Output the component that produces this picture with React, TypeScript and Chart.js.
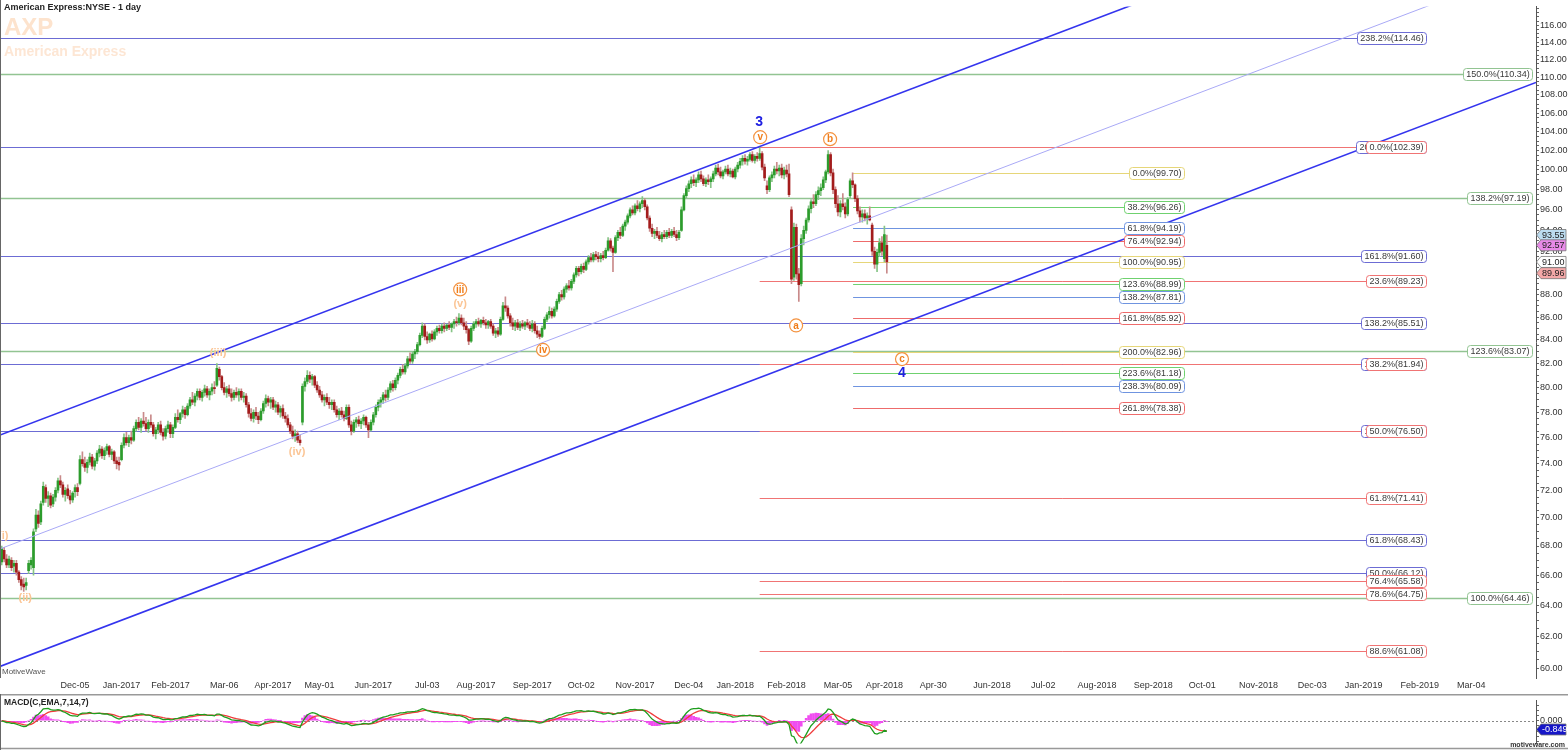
import React, { useEffect, useRef } from 'react';
import { Chart, registerables } from 'chart.js';

Chart.register(...registerables);

const FONT = '"Liberation Sans", Arial, Helvetica, sans-serif';

// trading-day index of the first candle (index 0 = 2016-12-05)
const FIRST_INDEX = -30;

// ---- daily OHLC, 2016-10-21 .. 2018-04-03 ----
const OPEN = [
  // Oct 21 - Dec 2 2016
  66.9,67.7,67.1,66.7,67.0,66.6,66.8,66.2,65.7,65.4,65.3,66.3,66.7,66.5,69.2,70.2,69.7,71.1,72.2,71.4,71.6,71.0,71.5,72.0,72.7,72.4,71.7,72.1,71.6,71.3,
  // Dec 2016
  71.9,72.2,72.5,74.3,74.0,73.7,74.1,74.5,73.8,74.2,74.8,75.1,74.6,75.0,75.3,74.7,74.9,74.2,74.1,
  // Jan 2017
  74.3,75.4,76.0,75.6,76.0,75.8,76.7,77.2,76.8,77.3,77.1,76.7,77.2,77.0,76.3,76.6,77.0,76.4,76.1,76.7,77.0,
  // Feb 2017
  76.3,76.8,77.6,77.4,77.9,78.2,77.8,78.5,79.0,78.8,79.3,79.7,79.2,79.6,79.9,79.4,79.7,80.0,
  // Mar 2017
  80.2,81.5,80.9,80.0,79.6,79.9,79.5,79.2,79.6,79.4,79.7,79.2,79.3,78.6,77.9,77.5,78.0,77.7,77.4,78.1,78.7,79.1,78.8,
  // Apr 2017
  79.0,78.4,78.6,78.0,78.3,77.7,77.5,77.0,76.5,76.1,76.3,75.8,77.2,80.1,80.5,81.0,80.7,80.9,80.2,
  // May 2017
  79.8,79.4,79.0,79.2,78.8,78.6,78.8,78.2,77.8,78.1,77.8,77.5,78.4,77.0,76.5,77.2,77.4,77.1,77.3,77.6,77.0,76.6,
  // Jun 2017
  77.2,77.8,78.4,78.8,79.0,79.4,79.2,79.8,80.3,80.0,80.6,81.0,81.5,81.3,81.8,82.4,82.2,82.8,83.0,83.6,84.4,85.2,
  // Jul 2017
  84.3,84.0,84.5,84.1,84.7,85.0,84.8,85.2,85.0,85.3,85.1,85.4,85.6,85.5,85.9,85.5,85.2,84.9,83.9,85.0,
  // Aug 2017
  85.4,85.6,85.4,85.7,85.5,85.3,85.6,85.2,84.6,84.8,84.5,85.8,87.0,86.8,86.1,85.5,85.2,85.5,85.1,85.4,85.2,85.5,85.3,
  // Sep 2017
  85.0,85.4,84.8,84.5,84.3,85.0,85.8,86.2,86.5,86.1,86.7,87.4,88.0,87.8,88.5,88.8,88.6,89.2,89.8,90.4,
  // Oct 2017
  90.1,90.6,90.3,91.0,91.4,91.2,91.7,91.5,91.3,91.6,91.4,92.1,93.0,92.3,91.9,93.3,93.8,93.5,94.4,94.8,95.4,96.0,
  // Nov 2017
  95.7,96.4,96.1,96.6,96.9,96.3,95.2,94.2,93.7,93.9,93.5,93.2,93.6,93.4,93.8,93.5,93.9,93.6,93.3,94.0,96.0,
  // Dec 2017
  97.4,98.1,98.6,99.0,98.7,99.0,99.5,99.1,98.6,99.0,98.8,99.1,99.6,100.2,99.8,99.4,99.8,100.1,99.6,99.9,
  // Jan 2018
  99.3,100.1,100.5,100.9,101.2,100.9,101.1,101.6,101.0,101.4,101.2,101.7,100.3,98.4,98.0,99.2,99.5,100.1,99.9,100.2,99.5,
  // Feb 2018
  100.0,99.6,96.0,89.6,94.3,89.9,89.0,93.2,94.0,95.0,96.1,96.8,96.6,97.5,97.9,98.2,99.0,99.8,101.6,
  // Mar 2018
  99.7,98.0,96.6,95.8,96.6,96.3,95.6,97.4,98.9,98.5,97.1,95.9,95.3,95.6,95.2,95.4,94.5,92.0,90.8,91.9,92.8,
  // Apr 2018
  91.3,92.57,
];
const HIGH = [
  68.0,67.9,67.4,67.3,67.2,67.0,67.0,66.3,65.9,65.8,65.8,67.0,67.2,69.2,70.6,70.5,71.2,72.6,72.4,71.9,71.8,71.7,72.2,72.9,73.1,72.6,72.2,72.4,72.0,71.9,
  72.4,72.5,74.6,74.9,74.5,74.3,74.8,74.7,74.4,75.0,75.4,75.3,75.2,75.5,75.4,75.1,75.0,74.5,74.5,
  75.6,76.3,76.4,76.2,76.5,76.9,77.4,77.6,77.5,78.0,77.6,77.4,77.8,77.2,76.8,77.2,77.3,76.7,76.9,77.3,77.2,
  77.0,77.9,78.2,78.0,78.5,78.4,78.7,79.2,79.6,79.5,79.9,79.9,79.8,80.2,80.1,79.9,80.3,80.5,
  82.0,81.7,81.0,80.4,80.1,80.2,79.9,79.8,80.0,79.9,79.9,79.6,79.5,78.8,78.3,78.2,78.4,78.0,78.3,78.9,79.4,79.3,79.2,
  79.2,78.9,78.8,78.5,78.6,78.0,77.8,77.2,76.9,76.6,76.5,76.2,80.3,80.8,81.4,81.3,81.1,81.0,80.5,
  80.1,79.7,79.4,79.5,79.2,79.0,79.0,78.5,78.3,78.4,78.1,78.6,78.6,77.3,77.4,77.6,77.7,77.5,77.8,77.7,77.2,77.4,
  78.0,78.6,79.0,79.2,79.6,79.8,80.0,80.5,80.6,80.8,81.2,81.7,81.9,82.0,82.6,82.9,83.0,83.2,83.8,84.6,85.5,85.4,
  84.7,84.6,84.8,84.9,85.2,85.3,85.4,85.5,85.4,85.6,85.5,85.8,86.0,86.3,86.2,85.9,85.6,85.0,85.2,85.6,
  85.8,85.9,85.8,86.0,85.8,85.7,85.8,85.4,85.0,85.1,86.0,87.3,87.8,87.0,86.3,85.9,85.7,85.8,85.6,85.7,85.6,85.8,85.6,
  85.7,85.6,85.2,84.8,85.2,86.0,86.4,86.9,86.8,86.9,87.6,88.2,88.4,88.7,89.0,89.3,89.4,90.0,90.6,90.6,
  90.8,90.9,91.2,91.6,91.8,91.9,92.0,91.9,91.8,92.0,92.3,93.3,93.2,92.5,93.5,94.0,94.3,94.6,95.0,95.6,96.2,96.4,
  96.6,96.9,96.8,97.3,97.1,96.5,95.4,94.6,94.1,94.3,93.9,93.8,94.0,94.0,94.2,94.1,94.3,94.0,94.0,96.3,97.6,
  98.4,98.9,99.3,99.5,99.2,99.8,99.9,99.4,99.2,99.5,99.3,99.9,100.5,100.6,100.3,100.0,100.4,100.5,100.2,100.1,
  100.3,100.8,101.2,101.5,101.6,101.4,101.8,101.9,101.6,101.8,102.4,101.9,100.6,98.9,99.4,99.8,100.4,100.8,100.5,100.6,100.3,
  100.5,100.6,96.3,94.7,94.6,90.4,93.6,94.4,95.2,96.4,97.0,97.5,97.8,98.3,98.6,99.3,100.0,102.0,101.8,
  100.1,98.3,97.4,96.9,97.6,96.7,97.2,99.1,99.7,98.6,97.4,96.3,96.0,96.0,95.7,96.3,94.7,92.4,92.2,93.2,93.4,
  94.4,93.55,
];
const LOW = [
  66.7,66.9,66.5,66.5,66.3,66.2,66.0,65.5,65.0,64.9,65.0,66.1,66.4,66.0,69.0,69.3,69.5,70.9,71.1,70.8,70.7,70.8,71.2,71.8,72.2,71.5,71.2,71.4,71.0,71.1,
  71.5,71.6,72.4,73.8,73.4,73.3,73.9,73.6,73.5,74.0,74.5,74.4,74.3,74.7,74.5,74.3,74.0,73.6,73.5,
  74.2,75.2,75.4,75.3,75.5,75.7,76.5,76.6,76.4,76.9,76.5,76.4,76.8,76.1,75.9,76.3,76.2,75.8,75.9,76.4,76.0,
  76.0,76.7,77.2,77.1,77.6,77.5,77.7,78.3,78.6,78.5,79.0,79.0,78.9,79.3,79.2,79.0,79.4,79.5,
  80.1,80.6,79.8,79.4,79.2,79.3,78.9,79.0,79.2,78.9,79.0,78.8,78.4,77.6,77.3,77.2,77.4,77.1,77.3,77.9,78.4,78.5,78.3,
  78.2,78.0,77.8,77.6,77.5,77.2,76.8,76.3,75.9,75.7,75.6,75.4,77.0,79.7,80.3,80.4,80.2,80.0,79.6,
  79.2,78.8,78.5,78.6,78.3,78.2,78.0,77.6,77.4,77.6,77.3,77.4,76.8,76.2,76.4,76.8,76.9,76.7,77.0,76.8,76.0,76.5,
  77.0,77.6,78.1,78.4,78.7,78.9,79.0,79.6,79.7,79.8,80.3,80.8,81.1,81.1,81.6,82.0,82.0,82.4,82.8,83.5,84.2,84.0,
  83.7,83.8,83.9,84.0,84.4,84.6,84.6,84.7,84.8,84.9,84.7,85.0,85.2,85.3,85.3,84.9,84.6,83.6,83.8,84.8,
  85.1,85.2,85.1,85.3,85.0,85.0,85.0,84.4,84.2,84.3,84.4,85.7,86.5,85.9,85.2,84.9,84.8,84.9,84.8,85.0,84.9,85.1,84.8,
  84.7,84.6,84.2,84.1,84.2,84.9,85.6,85.9,85.9,86.0,86.5,87.2,87.5,87.6,88.2,88.4,88.4,89.0,89.6,89.7,
  89.9,90.0,90.2,90.8,91.0,91.0,91.2,91.0,91.0,91.2,91.3,92.0,92.0,90.1,91.8,93.0,93.2,93.4,94.0,94.6,95.2,95.5,
  95.5,95.9,95.8,96.2,96.0,95.0,93.9,93.4,93.2,93.3,93.0,92.9,93.2,93.2,93.3,93.3,93.4,93.0,93.1,93.9,95.9,
  97.2,97.8,98.2,98.4,98.3,98.7,98.8,98.4,98.3,98.5,98.2,98.8,99.4,99.5,99.2,99.1,99.6,99.4,99.3,99.2,
  99.1,99.8,100.2,100.5,100.6,100.5,100.9,100.8,100.7,100.9,101.0,100.0,98.9,97.6,97.8,98.8,99.2,99.6,99.4,99.2,99.1,
  99.3,97.3,89.0,89.3,89.4,87.4,88.8,92.6,93.7,94.8,95.7,96.2,96.4,97.0,97.4,98.0,98.7,99.6,99.4,
  97.6,96.2,95.4,95.3,96.0,95.2,95.4,97.2,98.2,96.8,95.6,94.8,94.8,94.9,94.6,94.9,91.6,90.4,90.1,91.5,91.6,
  91.0,89.96,
];
const CLOSE = [
  67.8,67.1,66.7,67.1,66.5,66.8,66.2,65.7,65.3,65.2,65.5,66.8,67.0,69.0,70.2,69.6,71.0,72.3,71.4,71.6,70.9,71.5,72.0,72.7,72.4,71.7,72.0,71.6,71.3,71.8,
  72.2,71.9,74.3,74.0,73.7,74.1,74.5,73.8,74.2,74.8,75.1,74.6,75.0,75.3,74.7,74.9,74.2,74.0,73.9,
  75.4,76.0,75.6,76.0,75.8,76.7,77.2,76.8,77.3,77.1,76.7,77.2,77.0,76.3,76.6,77.0,76.4,76.1,76.7,77.0,76.3,
  76.8,77.6,77.4,77.9,78.2,77.8,78.5,79.0,78.8,79.3,79.7,79.2,79.6,79.9,79.4,79.7,80.0,79.9,
  81.6,80.9,80.0,79.6,79.9,79.5,79.2,79.6,79.4,79.7,79.2,79.3,78.6,77.9,77.5,78.0,77.7,77.4,78.1,78.7,79.1,78.8,79.0,
  78.4,78.6,78.0,78.3,77.7,77.5,77.0,76.5,76.1,76.3,75.8,75.6,80.1,80.5,81.0,80.7,80.9,80.2,79.8,
  79.4,79.0,79.2,78.8,78.6,78.8,78.2,77.8,78.1,77.8,77.5,78.4,77.0,76.5,77.2,77.4,77.1,77.3,77.6,77.0,76.6,77.2,
  77.8,78.4,78.8,79.0,79.4,79.2,79.8,80.3,80.0,80.6,81.0,81.5,81.3,81.8,82.4,82.2,82.8,83.0,83.6,84.4,85.2,84.3,
  84.0,84.5,84.1,84.7,85.0,84.8,85.2,85.0,85.3,85.1,85.4,85.6,85.5,85.9,85.5,85.2,84.9,83.9,85.0,85.4,
  85.6,85.4,85.7,85.5,85.3,85.6,85.2,84.6,84.8,84.5,85.8,87.0,86.8,86.1,85.5,85.2,85.5,85.1,85.4,85.2,85.5,85.3,85.0,
  85.4,84.8,84.5,84.3,85.0,85.8,86.2,86.5,86.1,86.7,87.4,88.0,87.8,88.5,88.8,88.6,89.2,89.8,90.4,90.1,
  90.6,90.3,91.0,91.4,91.2,91.7,91.5,91.3,91.6,91.4,92.1,93.0,92.3,91.9,93.3,93.8,93.5,94.4,94.8,95.4,96.0,95.7,
  96.4,96.1,96.6,96.9,96.3,95.2,94.2,93.7,93.9,93.5,93.2,93.6,93.4,93.8,93.5,93.9,93.6,93.3,93.8,96.0,97.4,
  98.1,98.6,99.0,98.7,99.0,99.5,99.1,98.6,99.0,98.8,99.1,99.6,100.2,99.8,99.4,99.8,100.1,99.6,99.9,99.3,
  100.1,100.5,100.9,101.2,100.9,101.1,101.6,101.0,101.4,101.2,101.7,100.3,99.2,98.0,99.2,99.5,100.1,99.9,100.2,99.5,100.0,
  99.6,97.5,89.4,94.3,89.9,88.9,93.2,94.0,95.0,96.1,96.8,96.6,97.5,97.9,98.2,99.0,99.8,101.6,99.7,
  98.0,96.6,95.8,96.6,96.3,95.6,97.0,98.9,98.5,97.1,95.9,95.3,95.6,95.2,95.4,95.0,92.0,90.8,91.9,92.8,92.0,
  93.6,91.00,
];

// ---- axes ----
const X_MIN = -30.7;
const X_MAX = 597.5;
const PRICE_MIN = 59.39;
const PRICE_MAX = 118.27;
const PRICE_LABEL_FIRST = 60;
const PRICE_LABEL_LAST = 116;
const PRICE_LABEL_STEP = 2;
const PRICE_MINOR_STEP = 0.5;
const DATE_TICK_INDEX = [0, 19, 39, 61, 81, 100, 122, 144, 164, 187, 207, 229, 251, 270, 291, 312, 331, 351, 375, 396, 418, 441, 461, 484, 506, 527, 550, 571];
const DATE_TICK_LABELS = ['Dec-05', 'Jan-2017', 'Feb-2017', 'Mar-06', 'Apr-2017', 'May-01', 'Jun-2017', 'Jul-03', 'Aug-2017', 'Sep-2017', 'Oct-02', 'Nov-2017', 'Dec-04', 'Jan-2018', 'Feb-2018', 'Mar-05', 'Apr-2018', 'Apr-30', 'Jun-2018', 'Jul-02', 'Aug-2018', 'Sep-2018', 'Oct-01', 'Nov-2018', 'Dec-03', 'Jan-2019', 'Feb-2019', 'Mar-04'];
const MACD_MIN = -2.22;
const MACD_MAX = 1.98;
const MACD_TICKS = [-2, -1.5, -1, -0.5, 0, 0.5, 1, 1.5];
const MACD_LAST_TAG = -0.849;

// ---- channel lines (trading-day index, price) ----
const CHANNEL_UPPER = [{ x: -30.7, y: 76.2 }, { x: 460, y: 121.6 }];
const CHANNEL_MIDDLE = [{ x: -30.7, y: 67.8 }, { x: 582.8, y: 121.7 }];
const CHANNEL_LOWER = [{ x: -30.7, y: 60.1 }, { x: 597.5, y: 109.4 }];

// ---- Fibonacci levels ----
const BLUE_LEVELS: [number, string][] = [
  [114.46, '238.2%(114.46)'], [102.39, '200.0%(102.39)'], [91.60, '161.8%(91.60)'], [85.51, '138.2%(85.51)'],
  [81.94, '123.6%(81.94)'], [76.50, '100.0%(76.50)'], [68.43, '61.8%(68.43)'], [66.12, '50.0%(66.12)'],
];
const GREEN_LEVELS: [number, string][] = [
  [110.34, '150.0%(110.34)'], [97.19, '138.2%(97.19)'], [83.07, '123.6%(83.07)'], [64.46, '100.0%(64.46)'],
];
const RED_LEVELS: [number, string][] = [
  [102.39, '0.0%(102.39)'], [89.23, '23.6%(89.23)'], [81.94, '38.2%(81.94)'], [76.50, '50.0%(76.50)'],
  [71.41, '61.8%(71.41)'], [65.58, '76.4%(65.58)'], [64.75, '78.6%(64.75)'], [61.08, '88.6%(61.08)'],
];
const SHORT_LEVELS: [number, string, string][] = [
  [99.70, '0.0%(99.70)', 'y'], [96.26, '38.2%(96.26)', 'g'], [94.19, '61.8%(94.19)', 'b'], [92.94, '76.4%(92.94)', 'r'],
  [90.95, '100.0%(90.95)', 'y'], [88.99, '123.6%(88.99)', 'g'], [87.81, '138.2%(87.81)', 'b'], [85.92, '161.8%(85.92)', 'r'],
  [82.96, '200.0%(82.96)', 'y'], [81.18, '223.6%(81.18)', 'g'], [80.09, '238.3%(80.09)', 'b'], [78.38, '261.8%(78.38)', 'r'],
];
const RED_START = 280;
const SHORT_START = 318.2;

// ---- wave labels (index, price) ----
const WAVE_LABELS: [string, number, number, string][] = [
  ['(i)', -29.4, 68.67, 'faded'], ['(ii)', -20.4, 64.44, 'faded'], ['(iii)', 58.5, 82.87, 'faded'],
  ['(iv)', 90.8, 74.87, 'faded'], ['(v)', 157.5, 87.13, 'faded'],
  ['iii', 157.5, 88.47, 'circle'], ['iv', 191.4, 83.15, 'circle'], ['v', 280.2, 103.42, 'circle'],
  ['b', 308.8, 103.21, 'circle'], ['a', 294.9, 85.26, 'circle'], ['c', 338.2, 82.37, 'circle'],
  ['3', 279.8, 105.0, 'blue'], ['4', 338.2, 81.21, 'blue'],
];

// ---- right-axis price tags ----
const PRICE_TAGS: [number, string][] = [[93.55, '#bcdcf0'], [92.57, '#e88ae8'], [91.00, '#ffffff'], [89.96, '#f4a8a8']];

// ---------------------------------------------------------------
const COLORS = {
  blue: '#6c6cd4', green: '#92c492', red: '#f07474',
  y: '#e6d679', g: '#6fd16f', b: '#6f94e0', r: '#ee6b6b',
};

function ema(src: number[], n: number): number[] {
  const k = 2 / (n + 1);
  const out: number[] = [];
  src.forEach((v, i) => out.push(i === 0 ? v : v * k + out[i - 1] * (1 - k)));
  return out;
}

function roundRectPath(ctx: CanvasRenderingContext2D, x: number, y: number, w: number, h: number, r: number) {
  ctx.beginPath();
  ctx.moveTo(x + r, y);
  ctx.lineTo(x + w - r, y);
  ctx.arcTo(x + w, y, x + w, y + r, r);
  ctx.lineTo(x + w, y + h - r);
  ctx.arcTo(x + w, y + h, x + w - r, y + h, r);
  ctx.lineTo(x + r, y + h);
  ctx.arcTo(x, y + h, x, y + h - r, r);
  ctx.lineTo(x, y + r);
  ctx.arcTo(x, y, x + r, y, r);
  ctx.closePath();
}

const LABEL_FONT = `9px ${FONT}`;

function labelWidth(ctx: CanvasRenderingContext2D, text: string) {
  ctx.font = LABEL_FONT;
  return Math.ceil(ctx.measureText(text).width) + 5;
}

function drawLevelLabel(ctx: CanvasRenderingContext2D, text: string, right: number, y: number, color: string) {
  const w = labelWidth(ctx, text);
  const h = 12;
  const left = right - w;
  const top = Math.round(y - h / 2) + 0.5;
  roundRectPath(ctx, left + 0.5, top, w, h, 3);
  ctx.fillStyle = '#ffffff';
  ctx.fill();
  ctx.strokeStyle = color;
  ctx.lineWidth = 1;
  ctx.stroke();
  ctx.fillStyle = '#3a3a3a';
  ctx.font = LABEL_FONT;
  ctx.textAlign = 'center';
  ctx.textBaseline = 'middle';
  ctx.fillText(text, left + w / 2 + 0.5, top + h / 2 + 0.5);
}

function drawPointerTag(ctx: CanvasRenderingContext2D, x0: number, y: number, text: string, bg: string, fg: string) {
  const h = 11;
  ctx.beginPath();
  ctx.moveTo(x0 + 0.5, y);
  ctx.lineTo(x0 + 5, y - h / 2);
  ctx.lineTo(x0 + 30, y - h / 2);
  ctx.lineTo(x0 + 30, y + h / 2);
  ctx.lineTo(x0 + 5, y + h / 2);
  ctx.closePath();
  ctx.fillStyle = bg;
  ctx.fill();
  ctx.strokeStyle = '#777';
  ctx.lineWidth = 0.8;
  ctx.stroke();
  ctx.fillStyle = fg;
  ctx.font = `9px ${FONT}`;
  ctx.textAlign = 'left';
  ctx.textBaseline = 'middle';
  ctx.fillText(text, x0 + 6, y + 0.5);
}

const mainOverlay = {
  id: 'mainOverlay',
  beforeDatasetsDraw(chart: any) {
    const { ctx, chartArea, scales } = chart;
    const xs = scales.x;
    const ys = scales.y;
    ctx.save();
    // watermark
    ctx.fillStyle = '#fde3cd';
    ctx.textAlign = 'left';
    ctx.textBaseline = 'middle';
    ctx.font = `bold 24px ${FONT}`;
    ctx.fillText('AXP', 4, 28);
    ctx.fillStyle = '#fde6d4';
    ctx.font = `bold 14px ${FONT}`;
    ctx.fillText('American Express', 4, 52);

    ctx.beginPath();
    ctx.rect(chartArea.left, chartArea.top, chartArea.right - chartArea.left, chartArea.bottom - chartArea.top);
    ctx.clip();

    const R1 = chartArea.right - 110;
    const RG = chartArea.right - 4;
    const RS = chartArea.right - 352;
    const groups = [
      { levels: BLUE_LEVELS.map(([p, t]) => [p, t, COLORS.blue]), start: X_MIN, right: R1, lw: 1.2 },
      { levels: GREEN_LEVELS.map(([p, t]) => [p, t, COLORS.green]), start: X_MIN, right: RG, lw: 1.6 },
      { levels: RED_LEVELS.map(([p, t]) => [p, t, COLORS.red]), start: RED_START, right: R1, lw: 1 },
      { levels: SHORT_LEVELS.map(([p, t, c]) => [p, t, (COLORS as any)[c]]), start: SHORT_START, right: RS, lw: 1 },
    ];
    groups.forEach((g) => {
      g.levels.forEach(([p, t, c]: any) => {
        const y = Math.round(ys.getPixelForValue(p)) + 0.5;
        const x0 = Math.max(chartArea.left, xs.getPixelForValue(g.start));
        const x1 = g.right - labelWidth(ctx, t);
        ctx.strokeStyle = c;
        ctx.lineWidth = g.lw;
        ctx.beginPath();
        ctx.moveTo(x0, y);
        ctx.lineTo(x1, y);
        ctx.stroke();
      });
    });
    ctx.restore();
    (chart as any)._fibGroups = groups;
  },
  afterDatasetsDraw(chart: any) {
    const { ctx, chartArea, scales } = chart;
    const xs = scales.x;
    const ys = scales.y;
    const groups = (chart as any)._fibGroups || [];
    ctx.save();
    groups.forEach((g: any) => {
      g.levels.forEach(([p, t, c]: any) => {
        drawLevelLabel(ctx, t, g.right, ys.getPixelForValue(p), c);
      });
    });

    // wave labels
    WAVE_LABELS.forEach(([t, xi, p, kind]) => {
      const px = xs.getPixelForValue(xi);
      const py = ys.getPixelForValue(p);
      ctx.textAlign = 'center';
      ctx.textBaseline = 'middle';
      if (kind === 'circle') {
        ctx.beginPath();
        ctx.arc(px, py, 6.5, 0, Math.PI * 2);
        ctx.fillStyle = '#ffffff';
        ctx.fill();
        ctx.strokeStyle = '#f4923f';
        ctx.lineWidth = 1.2;
        ctx.stroke();
        ctx.fillStyle = '#f07d1a';
        ctx.font = `bold 10px ${FONT}`;
        ctx.fillText(t, px, py + 0.5);
      } else if (kind === 'blue') {
        ctx.fillStyle = '#2020e2';
        ctx.font = `bold 14px ${FONT}`;
        ctx.fillText(t, px, py);
      } else {
        ctx.fillStyle = '#fbc595';
        ctx.font = `bold 11px ${FONT}`;
        ctx.fillText(t, px, py);
      }
    });

    // title and credits
    ctx.fillStyle = '#222';
    ctx.textAlign = 'left';
    ctx.textBaseline = 'middle';
    ctx.font = `bold 9px ${FONT}`;
    ctx.fillText('American Express:NYSE - 1 day', 4, 8);
    ctx.fillStyle = '#555';
    ctx.font = `8px ${FONT}`;
    ctx.fillText('MotiveWave', 2, chartArea.bottom - 6);

    // left frame
    ctx.strokeStyle = '#666';
    ctx.lineWidth = 1;
    ctx.beginPath();
    ctx.moveTo(0.5, 0);
    ctx.lineTo(0.5, chartArea.bottom);
    ctx.stroke();
    ctx.restore();
  },
  afterDraw(chart: any) {
    const { ctx, chartArea, scales } = chart;
    ctx.save();
    PRICE_TAGS.forEach(([v, bg]) => {
      drawPointerTag(ctx, chartArea.right, scales.y.getPixelForValue(v), v.toFixed(2), bg, '#222');
    });
    ctx.restore();
  },
};

const macdOverlay = {
  id: 'macdOverlay',
  beforeDatasetsDraw(chart: any) {
    const { ctx, chartArea, scales } = chart;
    const y0 = Math.round(scales.y.getPixelForValue(0)) + 0.5;
    ctx.save();
    ctx.strokeStyle = '#888';
    ctx.setLineDash([2, 2]);
    ctx.lineWidth = 1;
    ctx.beginPath();
    ctx.moveTo(chartArea.left, y0);
    ctx.lineTo(chartArea.right, y0);
    ctx.stroke();
    ctx.restore();
  },
  afterDraw(chart: any) {
    const { ctx, chartArea, scales, width, height } = chart;
    ctx.save();
    ctx.fillStyle = '#222';
    ctx.font = `bold 8.5px ${FONT}`;
    ctx.textAlign = 'left';
    ctx.textBaseline = 'middle';
    ctx.fillText('MACD(C,EMA,7,14,7)', 4, 9);
    // frame
    ctx.strokeStyle = '#999';
    ctx.lineWidth = 2;
    ctx.beginPath();
    ctx.moveTo(0, 0.5);
    ctx.lineTo(width, 0.5);
    ctx.stroke();
    ctx.lineWidth = 1.5;
    ctx.beginPath();
    ctx.moveTo(0, height - 1.5);
    ctx.lineTo(width, height - 1.5);
    ctx.stroke();
    ctx.strokeStyle = '#666';
    ctx.lineWidth = 1;
    ctx.beginPath();
    ctx.moveTo(0.5, 0);
    ctx.lineTo(0.5, height);
    ctx.stroke();
    drawPointerTag(ctx, chartArea.right, scales.y.getPixelForValue(MACD_LAST_TAG), MACD_LAST_TAG.toFixed(3), '#1616c8', '#ffffff');
    ctx.fillStyle = '#333';
    ctx.font = `bold 7px ${FONT}`;
    ctx.textAlign = 'right';
    ctx.fillText('motiveware.com', width - 3, height - 5);
    ctx.restore();
  },
};

function buildCandles() {
  const n = Math.min(OPEN.length, HIGH.length, LOW.length, CLOSE.length);
  const xsIdx: number[] = [];
  for (let i = 0; i < n; i++) xsIdx.push(FIRST_INDEX + i);
  const up = xsIdx.map((_, i) => CLOSE[i] >= OPEN[i]);
  return {
    n,
    xsIdx,
    wick: xsIdx.map((x, i) => ({ x, y: [LOW[i], HIGH[i]] })),
    body: xsIdx.map((x, i) => ({ x, y: [Math.min(OPEN[i], CLOSE[i]), Math.max(OPEN[i], CLOSE[i])] })),
    wickColor: up.map((u) => (u ? '#86c486' : '#c98a8a')),
    bodyColor: up.map((u) => (u ? '#2c9c2c' : '#a31c1c')),
  };
}

export default function App() {
  const mainRef = useRef<HTMLCanvasElement>(null);
  const macdRef = useRef<HTMLCanvasElement>(null);

  useEffect(() => {
    const c = buildCandles();
    const priceTicks: number[] = [];
    for (let v = PRICE_LABEL_FIRST; v <= PRICE_MAX + 1e-9; v += PRICE_MINOR_STEP) priceTicks.push(Math.round(v * 100) / 100);

    const main = new Chart(mainRef.current as HTMLCanvasElement, {
      type: 'bar',
      data: {
        datasets: [
          { type: 'bar', data: c.wick as any, backgroundColor: c.wickColor, barThickness: 1, grouped: false, minBarLength: 1, order: 3 } as any,
          { type: 'bar', data: c.body as any, backgroundColor: c.bodyColor, barThickness: 2, grouped: false, minBarLength: 1, order: 2 } as any,
          { type: 'line', data: CHANNEL_MIDDLE, borderColor: '#a9a9f6', borderWidth: 1, pointRadius: 0, order: 1 } as any,
          { type: 'line', data: CHANNEL_UPPER, borderColor: '#3434ee', borderWidth: 1.6, pointRadius: 0, order: 0 } as any,
          { type: 'line', data: CHANNEL_LOWER, borderColor: '#3434ee', borderWidth: 1.6, pointRadius: 0, order: 0 } as any,
        ],
      },
      options: {
        responsive: false,
        animation: false,
        devicePixelRatio: 1,
        events: [],
        layout: { padding: 0 },
        plugins: { legend: { display: false }, tooltip: { enabled: false } },
        scales: {
          x: {
            type: 'linear',
            min: X_MIN,
            max: X_MAX,
            offset: false,
            position: 'bottom',
            grid: { display: false, drawTicks: false, tickLength: 0 },
            border: { display: false },
            ticks: {
              autoSkip: false,
              maxRotation: 0,
              minRotation: 0,
              padding: 2,
              color: '#333',
              font: { size: 9, family: FONT },
              callback: (v: any) => {
                const k = DATE_TICK_INDEX.indexOf(Number(v));
                return k >= 0 ? DATE_TICK_LABELS[k] : '';
              },
            },
            afterBuildTicks: (s: any) => {
              s.ticks = DATE_TICK_INDEX.map((v) => ({ value: v }));
            },
            afterFit: (s: any) => {
              s.height = 16;
            },
          },
          y: {
            type: 'logarithmic',
            position: 'right',
            min: PRICE_MIN,
            max: PRICE_MAX,
            grid: { drawOnChartArea: false, drawTicks: true, tickLength: 3, color: '#666' },
            border: { display: true, color: '#555' },
            ticks: {
              autoSkip: false,
              padding: 1,
              color: '#333',
              font: { size: 9, family: FONT },
              callback: (v: any) => {
                const val = Number(v);
                const k = (val - PRICE_LABEL_FIRST) / PRICE_LABEL_STEP;
                return Math.abs(k - Math.round(k)) < 1e-6 && val <= PRICE_LABEL_LAST ? val.toFixed(2) : '';
              },
            },
            afterBuildTicks: (s: any) => {
              s.ticks = priceTicks.map((v) => ({ value: v }));
            },
            afterFit: (s: any) => {
              s.width = 32;
            },
          },
        },
      } as any,
      plugins: [mainOverlay],
    });

    const closes = CLOSE.slice(0, c.n);
    const e7 = ema(closes, 7);
    const e14 = ema(closes, 14);
    const macd = closes.map((_, i) => e7[i] - e14[i]);
    const signal = ema(macd, 7);
    const hist = macd.map((m, i) => m - signal[i]);

    const macdChart = new Chart(macdRef.current as HTMLCanvasElement, {
      type: 'bar',
      data: {
        datasets: [
          { type: 'bar', data: c.xsIdx.map((x, i) => ({ x, y: hist[i] })), backgroundColor: '#f04cf0', barThickness: 2, grouped: false, order: 2 } as any,
          { type: 'line', data: c.xsIdx.map((x, i) => ({ x, y: signal[i] })), borderColor: '#f03c3c', borderWidth: 1.3, pointRadius: 0, order: 1 } as any,
          { type: 'line', data: c.xsIdx.map((x, i) => ({ x, y: macd[i] })), borderColor: '#1e9e1e', borderWidth: 1.3, pointRadius: 0, order: 0 } as any,
        ],
      },
      options: {
        responsive: false,
        animation: false,
        devicePixelRatio: 1,
        events: [],
        layout: { padding: { top: 1, bottom: 2, left: 0, right: 0 } },
        plugins: { legend: { display: false }, tooltip: { enabled: false } },
        scales: {
          x: { type: 'linear', min: X_MIN, max: X_MAX, offset: false, display: false },
          y: {
            type: 'linear',
            position: 'right',
            min: MACD_MIN,
            max: MACD_MAX,
            grid: { drawOnChartArea: false, drawTicks: true, tickLength: 3, color: '#666' },
            border: { display: true, color: '#555' },
            ticks: {
              autoSkip: false,
              padding: 1,
              color: '#333',
              font: { size: 9, family: FONT },
              callback: (v: any) => (Number(v) === 0 ? '0.000' : ''),
            },
            afterBuildTicks: (s: any) => {
              s.ticks = MACD_TICKS.map((v) => ({ value: v }));
            },
            afterFit: (s: any) => {
              s.width = 32;
            },
          },
        },
      } as any,
      plugins: [macdOverlay],
    });

    return () => {
      main.destroy();
      macdChart.destroy();
    };
  }, []);

  return (
    <div style={{ position: 'fixed', left: 0, top: 0, width: 1568, height: 750, background: '#ffffff', overflow: 'hidden' }}>
      <canvas ref={mainRef} width={1568} height={694} style={{ position: 'absolute', left: 0, top: 0, width: 1568, height: 694 }} />
      <canvas ref={macdRef} width={1568} height={56} style={{ position: 'absolute', left: 0, top: 694, width: 1568, height: 56 }} />
    </div>
  );
}
